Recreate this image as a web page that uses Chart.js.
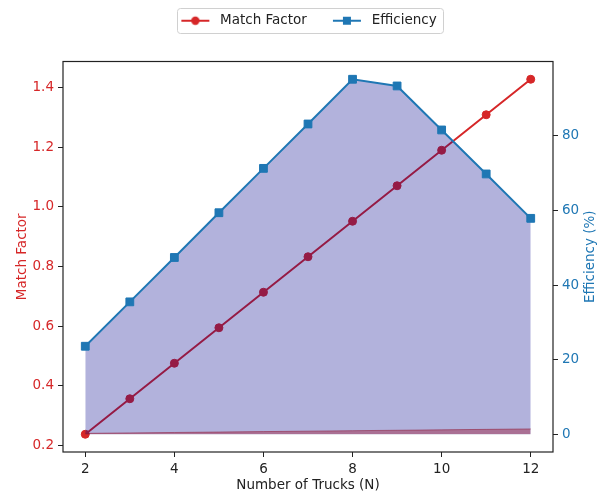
<!DOCTYPE html>
<html>
<head>
<meta charset="utf-8">
<script src="https://cdn.jsdelivr.net/npm/chart.js@4"></script>
<style>
  html, body { margin: 0; padding: 0; background: #fff; }
  #wrap { width: 602px; height: 494px; }
</style>
</head>
<body>
<div id="wrap"><canvas id="chart" width="602" height="494"></canvas></div>
<script>
// data
const trucks = [2, 3, 4, 5, 6, 7, 8, 9, 10, 11, 12];
const matchFactor = [0.238, 0.357, 0.476, 0.595, 0.714, 0.833, 0.952, 1.071, 1.190, 1.309, 1.428];
const efficiency = [23.6, 35.5, 47.4, 59.4, 71.3, 83.2, 95.2, 93.4, 81.6, 69.8, 57.9];
const xTicks = [2, 4, 6, 8, 10, 12];

const RED = '#d62728';
const BLUE = '#1f77b4';
const FONT = 'DejaVu Sans';
const FS = 13.5;

function pts(vals) {
    return trucks.map((x, i) => ({ x: x, y: vals[i] }));
}

// legend icons: short line with the marker on it (left blank part = gap between items)
const ICON_W = 48, ICON_LEAD = 16;
function legendIcon(color, shape) {
    const c = document.createElement('canvas');
    c.width = ICON_W; c.height = 12;
    const g = c.getContext('2d');
    g.strokeStyle = color; g.fillStyle = color; g.lineWidth = 2;
    g.beginPath(); g.moveTo(ICON_LEAD, 6); g.lineTo(ICON_LEAD + 28, 6); g.stroke();
    const mx = ICON_LEAD + 14;
    if (shape === 'circle') {
        g.beginPath(); g.arc(mx, 6, 4.2, 0, Math.PI * 2); g.fill();
    } else {
        g.fillRect(mx - 4, 2, 8, 8);
    }
    return c;
}

// frame round the plot, legend box, right-hand axis title
const framePlugin = {
    id: 'frame',
    afterDraw(chart) {
        const a = chart.chartArea, ctx = chart.ctx;
        ctx.save();
        ctx.strokeStyle = '#222';
        ctx.lineWidth = 1.2;
        ctx.strokeRect(a.left, a.top, a.right - a.left, a.bottom - a.top);
        const lg = chart.legend;
        if (lg && lg.legendHitBoxes && lg.legendHitBoxes.length) {
            const hb = lg.legendHitBoxes;
            const x0 = hb[0].left + ICON_LEAD - 4;
            const x1 = hb[hb.length - 1].left + hb[hb.length - 1].width + 7;
            const cy = hb[0].top + hb[0].height / 2;
            ctx.strokeStyle = '#d0d0d0';
            ctx.lineWidth = 1;
            ctx.beginPath();
            ctx.roundRect(Math.round(x0) + 0.5, Math.round(cy - 12.5) + 0.5, Math.round(x1 - x0), 25, 3);
            ctx.stroke();
        }
        // right axis title reads bottom-to-top like matplotlib
        ctx.translate(590, (a.top + a.bottom) / 2);
        ctx.rotate(-Math.PI / 2);
        ctx.fillStyle = BLUE;
        ctx.font = FS + 'px "' + FONT + '"';
        ctx.textAlign = 'center';
        ctx.textBaseline = 'middle';
        ctx.fillText('Efficiency (%)', 0, 0);
        ctx.restore();
    }
};

const ctx = document.getElementById('chart').getContext('2d');
new Chart(ctx, {
    type: 'line',
    data: {
        datasets: [
            {
                label: 'Match Factor',
                data: pts(matchFactor),
                yAxisID: 'y',
                borderColor: RED,
                backgroundColor: RED,
                borderWidth: 2,
                pointRadius: 4,
                pointBorderWidth: 1,
                pointStyle: 'circle',
                fill: false,
                order: 3
            },
            {
                label: 'Efficiency',
                data: pts(efficiency),
                yAxisID: 'y1',
                borderColor: BLUE,
                backgroundColor: BLUE,
                borderWidth: 2,
                pointRadius: 5.5,
                pointBorderWidth: 1,
                pointStyle: 'rect',
                fill: { target: { value: 0 }, above: 'rgba(0,0,139,0.3)', below: 'rgba(0,0,139,0.3)' },
                order: 2
            },
            {
                label: 'band',
                data: pts(matchFactor),
                yAxisID: 'y1',
                borderColor: 'rgba(140,20,50,0.5)',
                borderWidth: 1,
                pointRadius: 0,
                fill: { target: { value: 0 }, above: 'rgba(160,30,60,0.45)' },
                order: 1
            }
        ]
    },
    plugins: [framePlugin],
    options: {
        responsive: false,
        animation: false,
        layout: { padding: { top: 4, left: 0, right: 0, bottom: 0 } },
        plugins: {
            tooltip: { enabled: false },
            legend: {
                position: 'top',
                labels: {
                    usePointStyle: true,
                    pointStyleWidth: ICON_W,
                    generateLabels(chart) {
                        return [
                            { text: 'Match Factor', pointStyle: legendIcon(RED, 'circle'), datasetIndex: 0, fontColor: '#222', lineWidth: 0, strokeStyle: 'transparent', fillStyle: RED },
                            { text: 'Efficiency', pointStyle: legendIcon(BLUE, 'rect'), datasetIndex: 1, fontColor: '#222', lineWidth: 0, strokeStyle: 'transparent', fillStyle: BLUE }
                        ];
                    },
                    font: { family: FONT, size: FS },
                    color: '#222',
                    padding: 10
                }
            },
            // empty spacer between legend and plot
            subtitle: {
                display: true,
                text: '',
                weight: 500,
                font: { size: 10, lineHeight: 1 },
                padding: { top: 7, bottom: 7 }
            }
        },
        scales: {
            x: {
                type: 'linear',
                min: 1.5,
                max: 12.5,
                afterBuildTicks(scale) { scale.ticks = xTicks.map(v => ({ value: v })); },
                grid: { drawOnChartArea: false, drawTicks: true, tickLength: 5, tickColor: '#222' },
                border: { display: false },
                ticks: { font: { family: FONT, size: FS }, color: '#222', padding: 4, maxRotation: 0 },
                title: { display: true, text: 'Number of Trucks (N)', font: { family: FONT, size: FS }, color: '#222', padding: { top: 2, bottom: 0 } },
                afterFit(scale) { scale.height = 42; }
            },
            y: {
                position: 'left',
                min: 0.1785,
                max: 1.4875,
                afterBuildTicks(scale) { scale.ticks = [0.2, 0.4, 0.6, 0.8, 1.0, 1.2, 1.4].map(v => ({ value: v })); },
                grid: { drawOnChartArea: false, drawTicks: true, tickLength: 5, tickColor: '#222' },
                border: { display: false },
                ticks: { font: { family: FONT, size: FS }, color: RED, padding: 4, callback: v => v.toFixed(1) },
                title: { display: true, text: 'Match Factor', font: { family: FONT, size: FS }, color: RED, padding: { top: 14, bottom: 0 } },
                afterFit(scale) { scale.width = 63; }
            },
            y1: {
                position: 'right',
                min: -4.76,
                max: 99.96,
                afterBuildTicks(scale) { scale.ticks = [0, 20, 40, 60, 80].map(v => ({ value: v })); },
                grid: { drawOnChartArea: false, drawTicks: true, tickLength: 5, tickColor: '#222' },
                border: { display: false },
                ticks: { font: { family: FONT, size: FS }, color: BLUE, padding: 4 },
                title: { display: false },
                afterFit(scale) { scale.width = 49; }
            }
        }
    }
});
</script>
</body>
</html>
